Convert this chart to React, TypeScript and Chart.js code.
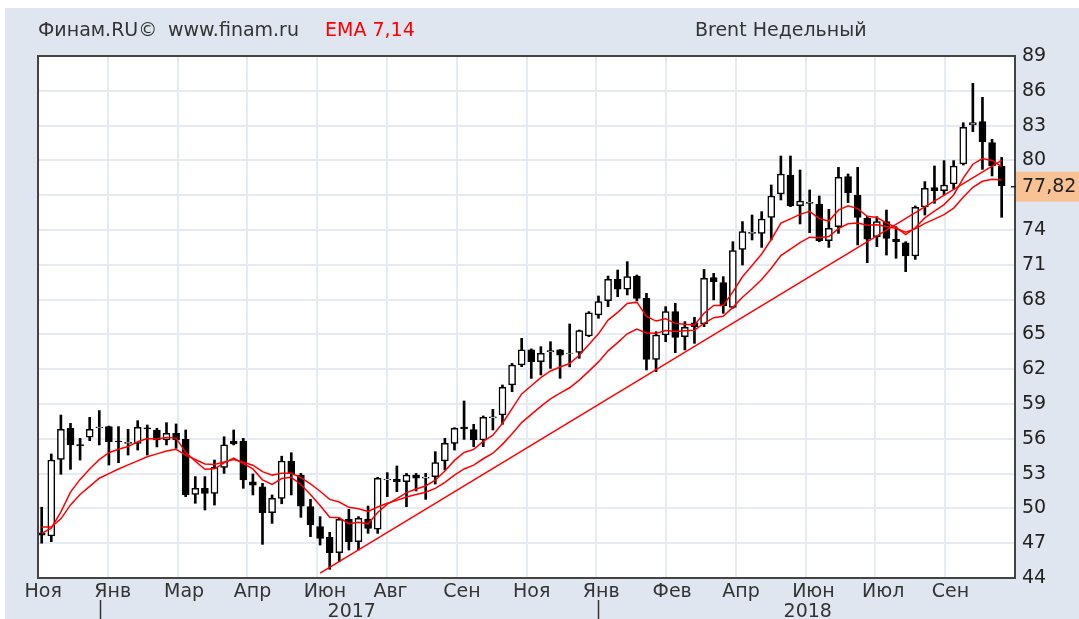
import React, { useEffect, useRef } from "react";
import { Chart, registerables } from "chart.js";

Chart.register(...registerables);

// ---- Data (weekly Brent candles) ----
const opens = [
  47.9, 47.62, 54.23, 56.9, 55.5, 56.13, 56.95, 57.05, 55.8, 55.6,
  55.6, 56.95, 56.76, 55.9, 56.47, 55.95, 51.2, 51.73, 51.3, 53.54,
  55.8, 55.8, 52.3, 51.87, 49.63, 50.87, 54.09, 52.88, 50.15, 48.43,
  47.5, 46.18, 49.06, 47.13, 49.09, 48.22, 52.45, 52.5, 52.3, 52.88,
  52.6, 52.74, 54.09, 55.6, 57.0, 56.8, 55.9, 57.8, 58.05, 60.64,
  62.36, 63.66, 62.65, 63.5, 63.66, 63.35, 63.45, 64.86, 66.67, 67.9,
  69.75, 68.89, 70.03, 68.11, 62.85, 64.95, 66.96, 64.8, 66.0, 65.9,
  69.89, 69.46, 67.33, 72.33, 73.7, 73.71, 75.09, 77.1, 78.74, 76.1,
  76.3, 76.24, 73.08, 74.29, 78.6, 77.02, 75.0, 73.43, 74.72, 73.2,
  72.9, 71.76, 76.0, 77.65, 77.39, 77.97, 79.69, 83.05, 83.34, 81.53,
  79.52,
];
const highs = [
  50.1, 54.69, 58.05, 57.33, 56.04, 57.85, 58.43, 57.1, 57.05, 56.82,
  57.56, 57.19, 56.9, 57.39, 57.28, 56.76, 52.74, 52.74, 54.17, 56.18,
  56.76, 56.04, 52.97, 52.16, 51.16, 54.5, 54.8, 53.02, 50.78, 49.29,
  47.94, 49.15, 49.92, 49.29, 50.2, 52.68, 53.08, 53.66, 53.02, 53.02,
  53.02, 54.89, 56.04, 56.96, 59.26, 57.25, 57.97, 58.54, 60.64, 62.5,
  64.66, 63.75, 63.94, 64.37, 63.7, 65.9, 65.38, 66.96, 68.31, 70.03,
  70.55, 71.27, 70.12, 68.54, 65.24, 67.39, 67.68, 66.1, 66.47, 70.6,
  70.26, 69.98, 72.99, 74.72, 75.29, 75.58, 77.88, 80.38, 80.38, 79.17,
  77.45, 76.93, 75.78, 79.4, 78.83, 79.4, 75.2, 75.15, 75.72, 74.29,
  72.99, 76.07, 78.17, 79.52, 79.98, 79.98, 83.25, 86.64, 85.44, 81.82,
  80.26,
];
const lows = [
  47.0, 47.13, 52.94, 53.37, 54.17, 55.84, 55.47, 53.74, 53.94, 54.6,
  55.03, 54.6, 55.3, 55.47, 55.18, 51.01, 50.44, 49.86, 50.29, 53.02,
  55.47, 51.73, 51.16, 46.9, 48.71, 50.4, 51.16, 49.23, 47.56, 46.84,
  44.75, 45.4, 46.41, 46.41, 47.85, 47.85, 51.01, 51.44, 50.15, 51.5,
  50.78, 52.1, 53.31, 55.03, 55.95, 55.32, 55.32, 56.76, 57.25, 60.06,
  62.22, 61.21, 61.5, 62.07, 61.21, 62.2, 62.94, 64.8, 66.39, 67.39,
  68.25, 68.4, 67.9, 61.93, 61.79, 64.37, 63.43, 63.66, 64.23, 65.67,
  67.97, 66.82, 67.25, 70.98, 73.14, 72.5, 73.14, 76.59, 76.01, 74.52,
  73.77, 72.99, 72.5, 73.71, 76.36, 72.71, 71.18, 72.56, 71.84, 71.56,
  70.41, 71.47, 75.29, 76.3, 77.02, 77.51, 79.6, 82.48, 79.23, 78.66,
  75.09,
];
const closes = [
  47.7, 54.17, 56.82, 55.47, 55.4, 56.82, 57.0, 55.75, 55.75, 55.7,
  56.99, 56.85, 55.9, 56.47, 55.9, 51.16, 51.73, 51.3, 53.54, 55.47,
  55.55, 52.45, 52.0, 49.63, 50.87, 54.09, 53.0, 50.2, 48.57, 47.42,
  46.18, 49.06, 47.13, 49.14, 48.28, 52.59, 52.5, 52.3, 52.88, 52.6,
  52.7, 53.94, 55.6, 56.9, 56.87, 55.9, 57.85, 57.9, 60.44, 62.36,
  63.66, 62.65, 63.37, 63.6, 63.22, 63.4, 65.32, 66.87, 67.82, 69.75,
  68.89, 69.98, 68.11, 62.85, 64.95, 66.96, 64.75, 65.61, 65.67, 69.83,
  69.55, 67.45, 72.22, 73.86, 73.8, 74.95, 76.93, 78.83, 76.07, 76.5,
  76.4, 73.08, 74.14, 78.54, 77.22, 75.09, 73.2, 74.72, 73.28, 73.0,
  71.76, 75.95, 77.59, 77.36, 77.88, 79.52, 82.85, 83.25, 81.61, 79.52,
  77.82,
];

// EMA lines
const ema7 = [
  47.85, 48.3, 49.7, 51.4, 52.5, 53.4, 54.2, 54.8, 55.1, 55.33,
  55.74, 56.02, 55.99, 56.11, 56.06, 54.83, 54.06, 53.37, 53.41, 53.93,
  54.33, 53.86, 53.4, 52.46, 52.06, 52.57, 52.68, 52.06, 51.19, 50.25,
  49.23, 49.19, 48.68, 48.8, 48.67, 49.65, 50.36, 50.85, 51.36, 51.67,
  51.93, 52.43, 53.22, 54.14, 54.82, 55.09, 55.78, 56.31, 57.34, 58.6,
  59.87, 60.57, 61.27, 61.85, 62.19, 62.49, 63.2, 64.12, 65.05, 66.23,
  66.9, 67.67, 67.78, 66.55, 66.15, 66.35, 65.95, 65.87, 65.82, 66.82,
  67.5, 67.49, 68.67, 69.97, 70.93, 71.93, 73.18, 74.59, 74.96, 75.35,
  75.61, 74.98, 74.77, 75.71, 76.09, 75.84, 75.18, 75.07, 74.62, 74.22,
  73.6, 74.19, 75.04, 75.62, 76.19, 77.02, 78.48, 79.67, 80.16, 80.0,
  79.46,
];
const ema14 = [
  48.4, 48.4, 49.1, 50.3, 51.2, 51.9, 52.6, 53.0, 53.4, 53.75,
  54.1, 54.45, 54.7, 54.95, 55.1, 54.6, 54.22, 53.83, 53.79, 54.01,
  54.22, 53.98, 53.72, 53.17, 52.87, 53.03, 53.03, 52.65, 52.11, 51.48,
  50.78, 50.55, 50.09, 49.97, 49.74, 50.12, 50.44, 50.69, 50.98, 51.19,
  51.39, 51.73, 52.25, 52.87, 53.4, 53.73, 54.28, 54.76, 55.52, 56.43,
  57.4, 58.1, 58.8, 59.44, 59.94, 60.4, 61.06, 61.83, 62.63, 63.58,
  64.29, 65.05, 65.46, 65.11, 65.09, 65.34, 65.26, 65.31, 65.36, 65.96,
  66.44, 66.57, 67.33, 68.2, 68.94, 69.74, 70.7, 71.79, 72.36, 72.91,
  73.38, 73.34, 73.44, 74.12, 74.54, 74.61, 74.42, 74.46, 74.31, 74.13,
  73.82, 74.1, 74.57, 74.94, 75.33, 75.89, 76.82, 77.68, 78.2, 78.38,
  78.31,
];

// Support (trend) line end points: [candle index, price]
const trendIdx = [29, 100];
const trendVal = [44.42, 80.0];

const monthLabels = ["Ноя", "Янв", "Мар", "Апр", "Июн", "Авг", "Сен", "Ноя", "Янв", "Фев", "Апр", "Июн", "Июл", "Сен"];
const yearLabels = ["2017", "2018"];
const yearCenters = [32.3, 79.8];
const yearStarts = [6.1, 58.0];
const yTickValues = [44, 47, 50, 53, 56, 59, 62, 65, 68, 71, 74, 77, 80, 83, 86, 89];
const lastPrice = 77.82;
const lastPriceText = "77,82";

const X_MIN = -0.385;
const X_MAX = 101.39;
const FONT = "'DejaVu Sans', Verdana, sans-serif";
const GRID = "#e6ebf3";
const TEXT = "#333333";

const W = 1074;
const H = 611;

export default function App() {
  const ref = useRef<HTMLCanvasElement | null>(null);

  useEffect(() => {
    const canvas = ref.current;
    if (!canvas) return;

    const decor = {
      id: "decor",
      beforeDraw(chart: any) {
        const { ctx, chartArea: a } = chart;
        ctx.save();
        ctx.fillStyle = "#ffffff";
        ctx.fillRect(a.left, a.top, a.right - a.left, a.bottom - a.top);
        ctx.restore();
      },
      afterDraw(chart: any) {
        const { ctx, chartArea: a } = chart;
        const xs = chart.scales.x;
        const ys = chart.scales.y;
        ctx.save();
        // frame
        ctx.strokeStyle = "#444444";
        ctx.lineWidth = 2;
        ctx.strokeRect(a.left, a.top, a.right - a.left, a.bottom - a.top);

        // title
        ctx.font = `19px ${FONT}`;
        ctx.textBaseline = "alphabetic";
        ctx.textAlign = "left";
        ctx.fillStyle = TEXT;
        ctx.fillText("Финам.RU©", 33, 28);
        ctx.fillText("www.finam.ru", 163, 28);
        ctx.fillStyle = "#ff0000";
        ctx.fillText("EMA 7,14", 320, 28);
        ctx.fillStyle = TEXT;
        ctx.fillText("Brent Недельный", 690, 28);

        // years
        ctx.textAlign = "center";
        yearLabels.forEach((t, i) => {
          ctx.fillText(t, xs.getPixelForValue(yearCenters[i]), 609);
        });
        ctx.strokeStyle = "#333333";
        ctx.lineWidth = 1.5;
        yearStarts.forEach((v) => {
          const px = Math.round(xs.getPixelForValue(v)) + 0.5;
          ctx.beginPath();
          ctx.moveTo(px, 592);
          ctx.lineTo(px, H);
          ctx.stroke();
        });

        // last price box
        const py = ys.getPixelForValue(lastPrice);
        ctx.fillStyle = "#f9c294";
        ctx.fillRect(a.right + 1, py - 14, W - a.right, 30);
        ctx.fillStyle = "#222222";
        ctx.textAlign = "left";
        ctx.textBaseline = "middle";
        ctx.fillText(lastPriceText, a.right + 7, py + 1);
        ctx.strokeStyle = "#222222";
        ctx.lineWidth = 1.5;
        ctx.beginPath();
        ctx.moveTo(a.right - 4, py + 1);
        ctx.lineTo(a.right + 1, py + 1);
        ctx.stroke();
        ctx.restore();
      },
    };

    const lineStyle = {
      type: "line",
      borderColor: "#ff0000",
      borderWidth: 1.5,
      pointRadius: 0,
      tension: 0,
      order: 0,
    };

    const chart = new Chart(canvas, {
      type: "bar",
      data: {
        datasets: [
          { ...lineStyle, label: "EMA 7", data: ema7.map((y, i) => ({ x: i, y })) } as any,
          { ...lineStyle, label: "EMA 14", data: ema14.map((y, i) => ({ x: i, y })) } as any,
          { ...lineStyle, label: "Trend", data: trendIdx.map((x, i) => ({ x, y: trendVal[i] })) } as any,
          {
            type: "bar",
            label: "Body",
            data: opens.map((o, i) => ({ x: i, y: [o, closes[i]] })),
            backgroundColor: opens.map((o, i) => (closes[i] >= o ? "#ffffff" : "#000000")),
            borderColor: "#000000",
            borderWidth: 1.5,
            borderSkipped: false,
            barThickness: 7,
            grouped: false,
            order: 1,
          } as any,
          {
            type: "bar",
            label: "Wick",
            data: highs.map((h, i) => ({ x: i, y: [lows[i], h] })),
            backgroundColor: "#000000",
            borderWidth: 0,
            barThickness: 2,
            grouped: false,
            order: 2,
          } as any,
        ],
      },
      options: {
        animation: false,
        responsive: false,
        maintainAspectRatio: false,
        layout: { padding: { left: 33, top: 48, right: 0, bottom: 0 } },
        plugins: { legend: { display: false }, tooltip: { enabled: false } },
        scales: {
          x: {
            type: "linear",
            min: X_MIN,
            max: X_MAX,
            offset: false,
            afterBuildTicks: (s: any) => {
              s.ticks = monthLabels.map((_, k) => ({ value: X_MIN + (k * (X_MAX - X_MIN)) / 14 }));
            },
            afterFit: (s: any) => {
              s.height = 41;
            },
            grid: { color: GRID, lineWidth: 2, drawTicks: false, offset: false },
            border: { display: false },
            ticks: {
              autoSkip: false,
              maxRotation: 0,
              minRotation: 0,
              align: "start",
              labelOffset: -13.5,
              padding: 3,
              color: TEXT,
              font: { family: FONT, size: 19 },
              callback: (_v: any, i: number) => monthLabels[i],
            },
          },
          y: {
            position: "right",
            min: 44,
            max: 89,
            afterBuildTicks: (s: any) => {
              s.ticks = yTickValues.map((v) => ({ value: v }));
            },
            afterFit: (s: any) => {
              s.width = 64;
            },
            grid: { color: GRID, lineWidth: 2, drawTicks: false },
            border: { display: false },
            ticks: {
              padding: 7,
              color: "#222222",
              font: { family: FONT, size: 19 },
              callback: (v: any) => String(v),
            },
          },
        },
      },
      plugins: [decor],
    } as any);

    return () => chart.destroy();
  }, []);

  return (
    <div
      style={{
        position: "absolute",
        left: 5,
        top: 8,
        width: W,
        height: H,
        background: "#e0e6f0",
      }}
    >
      <canvas ref={ref} width={W} height={H} style={{ display: "block" }} />
    </div>
  );
}
